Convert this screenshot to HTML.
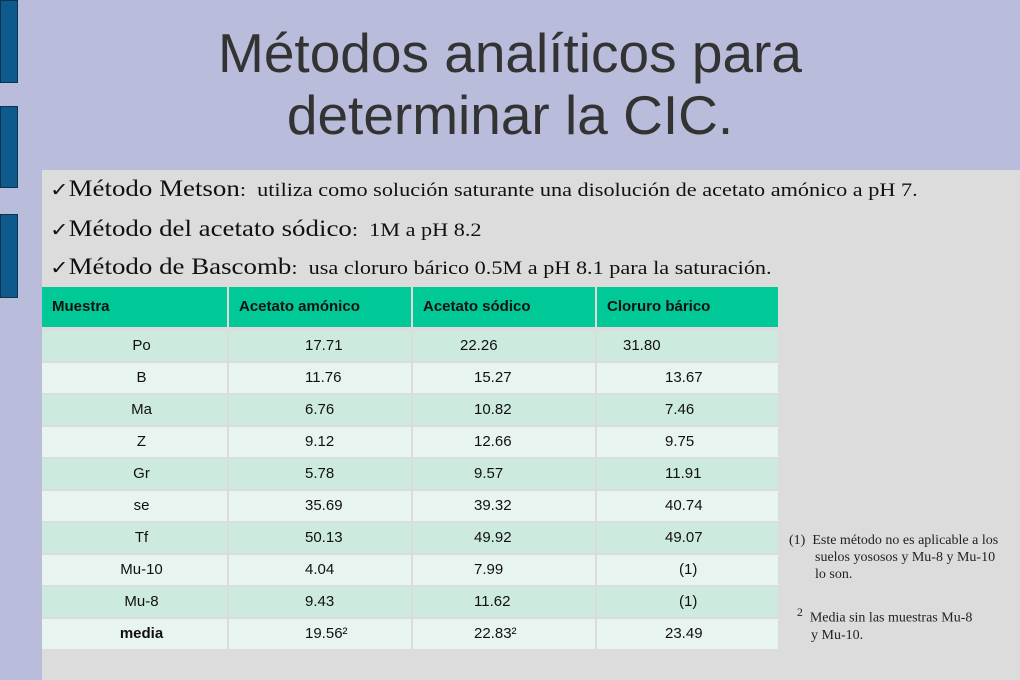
<!DOCTYPE html>
<html><head><meta charset="utf-8"><style>
body{margin:0;width:1020px;height:680px;overflow:hidden;background:#b9bcda;position:relative;font-family:"Liberation Sans",sans-serif}
.bar{position:absolute;left:0;width:18px;background:#0e5a8c;border:1px solid #0a3350;box-sizing:border-box}
#title{position:absolute;left:0;width:1020px;top:22px;text-align:center;font-size:55px;line-height:62px;color:#333}
#panel{position:absolute;left:42px;top:170px;width:978px;height:510px;background:#dcdcdc}
.b{position:absolute;left:50px;font-family:"Liberation Serif",serif;color:#111;font-size:19px;white-space:nowrap;transform:scaleX(1.17);transform-origin:left top}
.b big{font-size:23px}
.cell{position:absolute;box-sizing:border-box;font-size:15px;color:#111;line-height:30px;white-space:nowrap}
.hd{background:#00c896;font-weight:bold;line-height:39px;padding-left:10px}
.n{position:absolute;font-family:"Liberation Serif",serif;font-size:14px;color:#222;line-height:17px;white-space:nowrap}
</style></head><body>
<div class="bar" style="top:0;height:83px"></div>
<div class="bar" style="top:106px;height:82px"></div>
<div class="bar" style="top:214px;height:84px"></div>
<div id="title">Métodos analíticos para<br>determinar la CIC.</div>
<div id="panel"></div>
<div class="b" style="top:176px">✓<big>Método Metson</big>:&nbsp; utiliza como solución saturante una disolución de acetato amónico a pH 7.</div>
<div class="b" style="top:216px">✓<big>Método del acetato sódico</big>: &nbsp;1M a pH 8.2</div>
<div class="b" style="top:254px">✓<big>Método de Bascomb</big>: &nbsp;usa cloruro bárico 0.5M a pH 8.1 para la saturación.</div>
<div id="tbl"></div>
<div class="n" style="left:789px;top:532px">(1)&nbsp; Este método no es aplicable a los<br><span style="padding-left:26px">suelos yososos y Mu-8 y Mu-10</span><br><span style="padding-left:26px">lo son.</span></div>
<div class="n" style="left:797px;top:604px"><sup>2</sup>&nbsp; Media sin las muestras Mu-8<br><span style="padding-left:14px">y Mu-10.</span></div>
<script>
const headers=["Muestra","Acetato amónico","Acetato sódico","Cloruro bárico"];
const samples=["Po","B","Ma","Z","Gr","se","Tf","Mu-10","Mu-8","media"];
const amonico=["17.71","11.76","6.76","9.12","5.78","35.69","50.13","4.04","9.43","19.56²"];
const sodico=["22.26","15.27","10.82","12.66","9.57","39.32","49.92","7.99","11.62","22.83²"];
const barico=["31.80","13.67","7.46","9.75","11.91","40.74","49.07","(1)","(1)","23.49"];
const t=document.getElementById('tbl');
const xs=[42,229,413,597,780];
function mk(x,y,w,h,txt,cls,bg){const d=document.createElement('div');d.className='cell '+cls;d.style.left=x+'px';d.style.top=y+'px';d.style.width=w+'px';d.style.height=h+'px';if(bg)d.style.background=bg;d.textContent=txt;t.appendChild(d);return d;}
headers.forEach((h,i)=>{const d=mk(xs[i],287,xs[i+1]-xs[i]-2,40,h,'hd');

});
samples.forEach((s,r)=>{const y=331+r*32;const bg=r%2?'#e8f4ef':'#cdeadf';
const a=mk(xs[0],y,185,30,s,'',bg);a.style.textAlign='center';a.style.paddingLeft='14px';if(s==='media')a.style.fontWeight='bold';


const b=mk(xs[1],y,182,30,amonico[r],'',bg);b.style.paddingLeft='76px';


const c=mk(xs[2],y,182,30,sodico[r],'',bg);c.style.paddingLeft=(r===0?47:61)+'px';


const d=mk(xs[3],y,181,30,barico[r],'',bg);d.style.paddingLeft=(r===0?26:(barico[r]==='(1)'?82:68))+'px';

});
</script>
</body></html>
